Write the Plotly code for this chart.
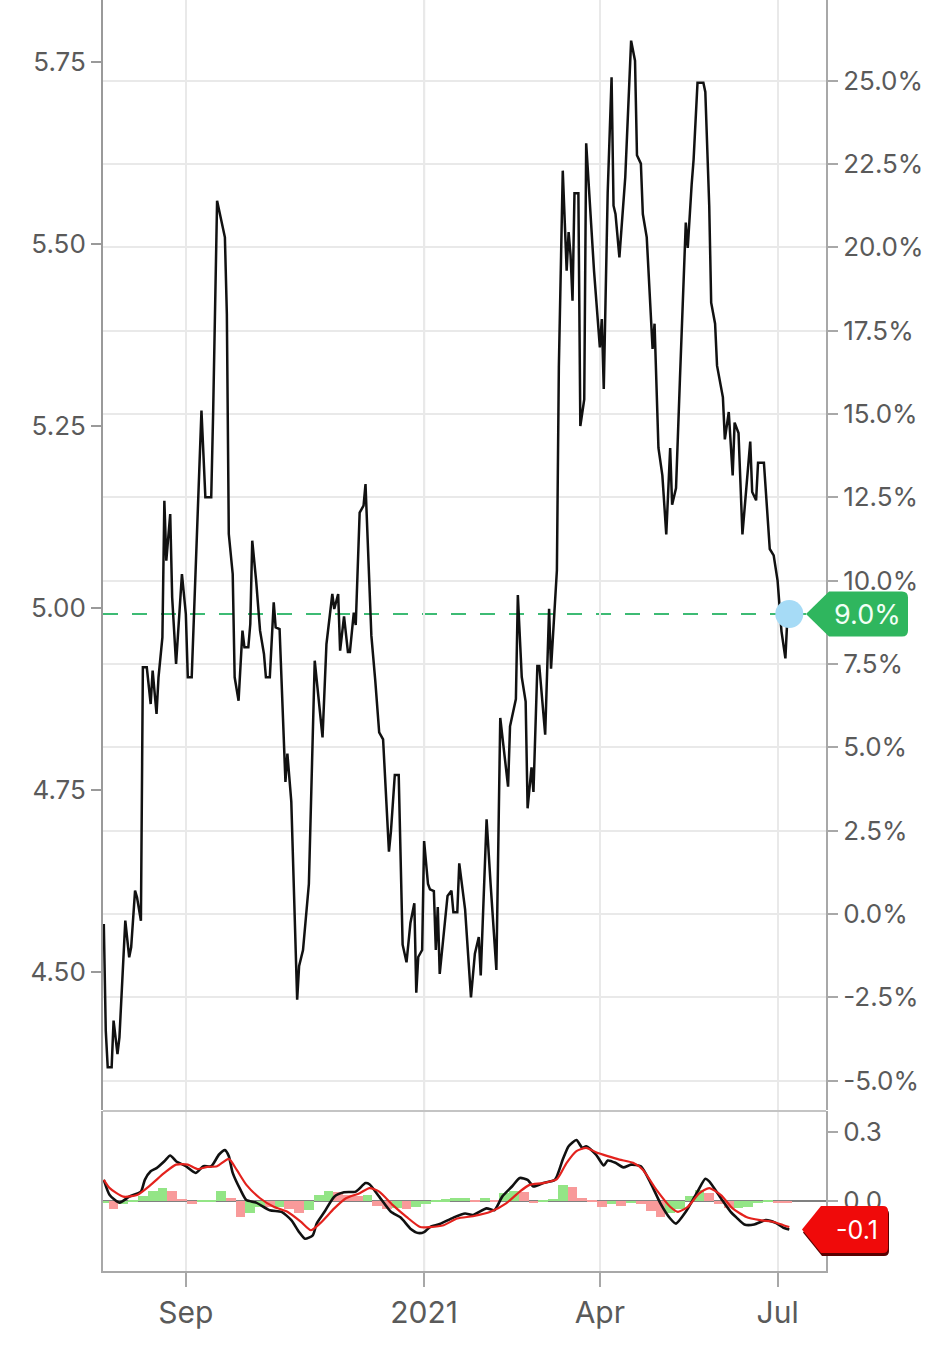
import pandas as pd
import plotly.graph_objects as go

# ---------------- data ----------------
rate_dates = [
    "2020-07-21", "2020-07-22", "2020-07-23", "2020-07-25", "2020-07-26", "2020-07-28", "2020-07-29",
    "2020-07-31", "2020-08-01", "2020-08-03", "2020-08-04", "2020-08-06", "2020-08-07", "2020-08-09",
    "2020-08-10", "2020-08-12", "2020-08-14", "2020-08-15", "2020-08-17", "2020-08-18", "2020-08-20",
    "2020-08-21", "2020-08-22", "2020-08-24", "2020-08-25", "2020-08-27", "2020-08-30", "2020-09-01",
    "2020-09-02", "2020-09-04", "2020-09-07", "2020-09-09", "2020-09-11", "2020-09-14", "2020-09-15",
    "2020-09-17", "2020-09-21", "2020-09-22", "2020-09-23", "2020-09-25", "2020-09-26", "2020-09-28",
    "2020-09-30", "2020-10-01", "2020-10-03", "2020-10-04", "2020-10-05", "2020-10-07", "2020-10-09",
    "2020-10-11", "2020-10-12", "2020-10-14", "2020-10-16", "2020-10-17", "2020-10-19", "2020-10-22",
    "2020-10-23", "2020-10-25", "2020-10-28", "2020-10-29", "2020-10-31", "2020-11-02", "2020-11-03",
    "2020-11-06", "2020-11-10", "2020-11-12", "2020-11-15", "2020-11-16", "2020-11-18", "2020-11-19",
    "2020-11-21", "2020-11-23", "2020-11-24", "2020-11-26", "2020-11-27", "2020-11-29", "2020-12-01",
    "2020-12-02", "2020-12-05", "2020-12-07", "2020-12-09", "2020-12-11", "2020-12-14", "2020-12-15",
    "2020-12-17", "2020-12-19", "2020-12-21", "2020-12-23", "2020-12-25", "2020-12-27", "2020-12-28",
    "2020-12-29", "2020-12-31", "2021-01-01", "2021-01-03", "2021-01-04", "2021-01-06", "2021-01-07",
    "2021-01-08", "2021-01-09", "2021-01-13", "2021-01-15", "2021-01-16", "2021-01-18", "2021-01-19",
    "2021-01-22", "2021-01-25", "2021-01-27", "2021-01-29", "2021-01-30", "2021-02-02", "2021-02-04",
    "2021-02-07", "2021-02-09", "2021-02-13", "2021-02-14", "2021-02-17", "2021-02-18", "2021-02-20",
    "2021-02-22", "2021-02-23", "2021-02-25", "2021-02-26", "2021-02-28", "2021-03-01", "2021-03-04",
    "2021-03-06", "2021-03-07", "2021-03-09", "2021-03-10", "2021-03-11", "2021-03-12", "2021-03-13",
    "2021-03-15", "2021-03-16", "2021-03-17", "2021-03-18", "2021-03-19", "2021-03-21", "2021-03-22",
    "2021-03-24", "2021-03-25", "2021-03-27", "2021-03-29", "2021-04-01", "2021-04-02", "2021-04-03",
    "2021-04-05", "2021-04-07", "2021-04-08", "2021-04-09", "2021-04-11", "2021-04-14", "2021-04-17",
    "2021-04-19", "2021-04-20", "2021-04-22", "2021-04-23", "2021-04-25", "2021-04-27", "2021-04-28",
    "2021-04-29", "2021-05-01", "2021-05-03", "2021-05-05", "2021-05-07", "2021-05-08", "2021-05-10",
    "2021-05-11", "2021-05-12", "2021-05-15", "2021-05-16", "2021-05-18", "2021-05-19", "2021-05-21",
    "2021-05-24", "2021-05-25", "2021-05-27", "2021-05-28", "2021-05-30", "2021-05-31", "2021-06-03",
    "2021-06-04", "2021-06-06", "2021-06-08", "2021-06-09", "2021-06-11", "2021-06-13", "2021-06-17",
    "2021-06-18", "2021-06-20", "2021-06-21", "2021-06-24", "2021-06-27", "2021-06-29", "2021-07-01",
    "2021-07-03", "2021-07-05", "2021-07-06", "2021-07-07",
]
rate_values = [
    -0.3, -3.5, -4.6, -4.6, -3.2, -4.2, -3.7,
    -1.1, -0.2, -1.3, -1.0, 0.7, 0.5, -0.2,
    7.4, 7.4, 6.3, 7.3, 6.0, 7.1, 8.3,
    12.4, 10.6, 12.0, 9.5, 7.5, 10.2, 9.0,
    7.1, 7.1, 12.0, 15.1, 12.5, 12.5, 15.1,
    21.4, 20.3, 18.0, 11.4, 10.2, 7.1, 6.4,
    8.5, 8.0, 8.0, 8.7, 11.2, 10.0, 8.5,
    7.8, 7.1, 7.1, 9.35, 8.6, 8.55, 3.96,
    4.81, 3.37, -2.57, -1.56, -1.08, 0.26, 0.9,
    7.6, 5.3, 8.1, 9.6, 9.15, 9.6, 7.9,
    8.93, 7.86, 7.86, 9.04, 8.67, 12.04, 12.25,
    12.9, 8.35, 7.0, 5.45, 5.24, 1.87, 2.46,
    4.17, 4.17, -0.92, -1.45, -0.27, 0.32, -2.36,
    -1.29, -1.08, 2.19, 0.9, 0.74, 0.69, -1.08,
    0.21, -1.8, 0.54, 0.7, 0.05, 0.05, 1.52,
    0.13, -2.5, -1.19, -0.69, -1.84, 2.84, 0.95,
    -1.68, 5.88, 3.82, 5.63, 6.45, 9.57, 7.11,
    6.37, 3.17, 4.4, 3.66, 7.44, 7.44, 5.38,
    9.16, 7.36, 9.57, 10.31, 16.4, 19.84, 22.3,
    19.3, 20.46, 19.76, 18.4, 21.62, 21.62, 14.64,
    15.44, 23.12, 21.1, 19.3, 17.0, 17.85, 15.75,
    21.63, 25.1, 21.25, 21.0, 19.7, 22.1, 26.2,
    25.6, 22.76, 22.51, 21.0, 20.3, 17.96, 16.95,
    17.71, 13.98, 13.16, 11.39, 13.98, 12.28, 12.78,
    14.68, 16.05, 20.74, 19.98, 21.88, 22.64, 24.94,
    24.94, 24.66, 21.25, 18.34, 17.71, 16.45, 15.5,
    14.24, 15.06, 13.16, 14.74, 14.43, 11.39, 14.17,
    12.66, 12.41, 13.54, 13.54, 10.95, 10.76, 10.0,
    8.48, 7.67, 8.87, 9.0,
]

macd_dates = [
    "2020-07-21", "2020-07-24", "2020-07-29", "2020-08-03", "2020-08-09", "2020-08-11", "2020-08-14",
    "2020-08-17", "2020-08-21", "2020-08-24", "2020-08-27", "2020-09-01", "2020-09-06", "2020-09-10",
    "2020-09-14", "2020-09-18", "2020-09-21", "2020-09-23", "2020-09-25", "2020-09-29", "2020-10-02",
    "2020-10-07", "2020-10-14", "2020-10-20", "2020-10-25", "2020-10-29", "2020-11-01", "2020-11-05",
    "2020-11-07", "2020-11-11", "2020-11-16", "2020-11-21", "2020-11-27", "2020-12-02", "2020-12-04",
    "2020-12-09", "2020-12-15", "2020-12-20", "2020-12-25", "2020-12-29", "2021-01-01", "2021-01-04",
    "2021-01-09", "2021-01-16", "2021-01-22", "2021-01-26", "2021-02-02", "2021-02-06", "2021-02-10",
    "2021-02-15", "2021-02-19", "2021-02-23", "2021-02-26", "2021-03-03", "2021-03-09", "2021-03-13",
    "2021-03-16", "2021-03-20", "2021-03-23", "2021-03-25", "2021-03-30", "2021-04-03", "2021-04-05",
    "2021-04-09", "2021-04-13", "2021-04-17", "2021-04-22", "2021-04-27", "2021-05-02", "2021-05-07",
    "2021-05-10", "2021-05-15", "2021-05-21", "2021-05-25", "2021-05-27", "2021-06-02", "2021-06-07",
    "2021-06-10", "2021-06-14", "2021-06-19", "2021-06-25", "2021-06-30", "2021-07-04", "2021-07-07",
]
macd_values = [
    0.092, 0.026, -0.007, 0.019, 0.041, 0.092, 0.129,
    0.143, 0.173, 0.198, 0.173, 0.151, 0.122, 0.151,
    0.151, 0.202, 0.221, 0.195, 0.122, 0.048, 0.004,
    -0.007, -0.040, -0.047, -0.083, -0.135, -0.164, -0.149,
    -0.098, -0.047, 0.019, 0.038, 0.041, 0.078, 0.073,
    0.019, -0.047, -0.072, -0.120, -0.139, -0.135, -0.113,
    -0.100, -0.072, -0.054, -0.061, -0.032, -0.040, 0.019,
    0.063, 0.100, 0.092, 0.063, 0.078, 0.092, 0.180,
    0.238, 0.265, 0.231, 0.238, 0.202, 0.154, 0.176,
    0.166, 0.146, 0.158, 0.151, 0.078, -0.010, -0.076,
    -0.098, -0.047, 0.041, 0.097, 0.085, 0.012, -0.047,
    -0.072, -0.102, -0.102, -0.083, -0.095, -0.116, -0.124,
]

signal_dates = [
    "2020-07-21", "2020-07-24", "2020-07-31", "2020-08-07", "2020-08-14", "2020-08-21", "2020-08-27",
    "2020-09-02", "2020-09-07", "2020-09-12", "2020-09-17", "2020-09-23", "2020-09-27", "2020-10-02",
    "2020-10-09", "2020-10-16", "2020-10-23", "2020-10-30", "2020-11-04", "2020-11-09", "2020-11-16",
    "2020-11-22", "2020-11-29", "2020-12-04", "2020-12-09", "2020-12-16", "2020-12-23", "2020-12-30",
    "2021-01-04", "2021-01-11", "2021-01-18", "2021-01-26", "2021-02-04", "2021-02-12", "2021-02-19",
    "2021-02-24", "2021-03-03", "2021-03-10", "2021-03-15", "2021-03-20", "2021-03-25", "2021-03-30",
    "2021-04-05", "2021-04-11", "2021-04-18", "2021-04-23", "2021-04-30", "2021-05-07", "2021-05-11",
    "2021-05-16", "2021-05-22", "2021-05-27", "2021-06-02", "2021-06-08", "2021-06-15", "2021-06-22",
    "2021-06-29", "2021-07-04", "2021-07-07",
]
signal_values = [
    0.092, 0.056, 0.019, 0.026, 0.070, 0.122, 0.158,
    0.158, 0.139, 0.148, 0.151, 0.183, 0.136, 0.070,
    0.012, -0.025, -0.047, -0.091, -0.127, -0.095, -0.032,
    0.012, 0.034, 0.056, 0.041, -0.018, -0.069, -0.113,
    -0.113, -0.105, -0.076, -0.066, -0.047, -0.010, 0.041,
    0.070, 0.078, 0.095, 0.166, 0.217, 0.231, 0.212,
    0.195, 0.180, 0.166, 0.136, 0.048, -0.025, -0.047,
    -0.025, 0.034, 0.056, 0.026, -0.032, -0.069, -0.083,
    -0.091, -0.105, -0.113,
]

hist_values = [
    -0.01, -0.035, -0.015, 0.005, 0.02, 0.045, 0.055, 0.045, 0.01, -0.012,
    0.003, 0.005, 0.045, 0.015, -0.07, -0.05, -0.025, -0.028, -0.025, -0.035,
    -0.05, -0.04, 0.025, 0.045, 0.04, 0.025, 0.02, 0.025, -0.02, -0.035,
    -0.03, -0.035, -0.025, -0.012, 0.005, 0.008, 0.012, 0.015, 0.006, 0.015,
    0.005, 0.035, 0.045, 0.04, -0.008, 0.003, 0.01, 0.07, 0.06, 0.012,
    0.006, -0.025, -0.012, -0.02, -0.01, -0.012, -0.045, -0.07, -0.05, -0.035,
    0.02, 0.05, 0.035, -0.012, -0.03, -0.03, -0.025, -0.01, 0.002, -0.005,
    -0.01,
]
hist_dates = list(pd.date_range("2020-07-21", periods=len(hist_values), freq="5D").strftime("%Y-%m-%d"))

left_ticks = [4.50, 4.75, 5.00, 5.25, 5.50, 5.75]
right_ticks = [-5.0, -2.5, 0.0, 2.5, 5.0, 7.5, 10.0, 12.5, 15.0, 17.5, 20.0, 22.5, 25.0]
macd_ticks = [0.0, 0.3]
x_tick_dates = ["2020-09-01", "2021-01-01", "2021-04-01", "2021-07-01"]
x_tick_labels = ["Sep", "2021", "Apr", "Jul"]

# ---------------- layout geometry (pixels) ----------------
W, H = 952, 1352
PL, PR = 103, 826          # plot area left / right
PT, PB = 0, 1271           # plot area top / bottom
MAIN_BOTTOM = 1110
SUB_TOP = 1111
PH = PB - PT
PW = PR - PL

main_range = [-5.88, 27.42]       # percent axis (right)
left_range = [4.310, 5.835]       # left scale
macd_range = [-0.304, 0.391]
PX_PER_PCT = (MAIN_BOTTOM - PT) / (main_range[1] - main_range[0])
PX_PER_MACD = (PB - SUB_TOP) / (macd_range[1] - macd_range[0])


def px_x(px):
    return (px - PL) / PW


FONT = "Inter, Lato, sans-serif"
TXT = "#5a5a5a"
GRID = "#e9e9e9"
AXL = "#a8a8a8"

hist_colors = []
prev = None
for v in hist_values:
    up = prev is None or v >= prev
    hist_colors.append("#93e586" if up else "#f89a9a")
    prev = v

fig = go.Figure()

fig.add_trace(go.Bar(
    x=hist_dates, y=hist_values, marker_color=hist_colors, marker_line_width=0,
    width=5 * 86400000, xaxis="x", yaxis="y3", hoverinfo="skip", showlegend=False,
))
fig.add_trace(go.Scatter(
    x=macd_dates, y=macd_values, mode="lines", line=dict(color="#111111", width=2.6, shape="spline", smoothing=0.6),
    xaxis="x", yaxis="y3", showlegend=False, hoverinfo="skip",
))
fig.add_trace(go.Scatter(
    x=signal_dates, y=signal_values, mode="lines", line=dict(color="#e3221d", width=2.2, shape="spline", smoothing=0.6),
    xaxis="x", yaxis="y3", showlegend=False, hoverinfo="skip",
))
fig.add_trace(go.Scatter(
    x=rate_dates, y=rate_values, mode="lines", line=dict(color="#111111", width=2.5),
    xaxis="x", yaxis="y", showlegend=False, hoverinfo="skip",
))
fig.add_trace(go.Scatter(
    x=[rate_dates[-1]], y=[rate_values[-1]], mode="markers",
    marker=dict(size=28, color="#a6dbf6", line=dict(width=0)),
    xaxis="x", yaxis="y", showlegend=False, hoverinfo="skip",
))

last_rate = rate_values[-1]
last_macd = macd_values[-1]

shapes = []
# darker year boundary gridline
shapes.append(dict(type="line", xref="x", yref="paper", x0="2021-01-01", x1="2021-01-01", y0=0, y1=1,
                   line=dict(color="#cdcdcd", width=2), layer="between"))
# separator between the two panels
shapes.append(dict(type="line", xref="paper", yref="paper", x0=0, x1=1,
                   y0=(PB - SUB_TOP) / PH, y1=(PB - SUB_TOP) / PH,
                   line=dict(color="#c4c4c4", width=2), layer="above"))
# dashed last-value line
shapes.append(dict(type="line", xref="paper", yref="y", x0=0, x1=px_x(806), y0=last_rate, y1=last_rate,
                   line=dict(color="#3dbb74", width=2, dash="15px,14px"), layer="between"))


def tag_path(tip, body, right, yc, half, rx, ry):
    return (f"M{tip},{yc} L{body},{yc + half} L{right - rx},{yc + half} "
            f"Q{right},{yc + half} {right},{yc + half - ry} L{right},{yc - half + ry} "
            f"Q{right},{yc - half} {right - rx},{yc - half} L{body},{yc - half} Z")


# green last-value tag on the percent axis
g_half = 22.5 / PX_PER_PCT
shapes.append(dict(type="path", xref="paper", yref="y",
                   path=tag_path(px_x(806), px_x(829), px_x(908), last_rate, g_half,
                                 6 / PW, 6 / PX_PER_PCT),
                   fillcolor="#2fb65e", line=dict(width=0), layer="above"))

# red last-value tag on the MACD axis (with a dark shadow)
r_half = 23.5 / PX_PER_MACD
sh = 3 / PX_PER_MACD
shapes.append(dict(type="path", xref="paper", yref="y3",
                   path=tag_path(px_x(803), px_x(822), px_x(889), last_macd - sh, r_half,
                                 5 / PW, 5 / PX_PER_MACD),
                   fillcolor="#5a0000", line=dict(width=0), layer="above"))
shapes.append(dict(type="path", xref="paper", yref="y3",
                   path=tag_path(px_x(802), px_x(821), px_x(888), last_macd, r_half,
                                 5 / PW, 5 / PX_PER_MACD),
                   fillcolor="#f00a0a", line=dict(width=0), layer="above"))

annotations = [
    dict(xref="paper", yref="y", x=px_x(867), y=last_rate, text=f"{last_rate:.1f}%", showarrow=False,
         font=dict(family=FONT, size=27, color="#f2fff5"), xanchor="center", yanchor="middle"),
    dict(xref="paper", yref="y3", x=px_x(857), y=last_macd, text=f"{last_macd:.1f}", showarrow=False,
         font=dict(family=FONT, size=25, color="#ffffff"), xanchor="center", yanchor="middle"),
]

fig.update_layout(
    width=W, height=H,
    margin=dict(l=PL, r=W - PR, t=PT, b=H - PB, pad=0),
    paper_bgcolor="white", plot_bgcolor="white",
    showlegend=False, bargap=0,
    shapes=shapes, annotations=annotations,
    xaxis=dict(
        type="date", range=["2020-07-20 14:00", "2021-07-25 19:00"], anchor="y3",
        tickvals=x_tick_dates, ticktext=x_tick_labels,
        showgrid=True, gridcolor=GRID, gridwidth=2,
        showline=True, linecolor=AXL, linewidth=2,
        ticks="outside", ticklen=14, tickwidth=2, tickcolor=AXL,
        tickfont=dict(family=FONT, size=30, color=TXT), zeroline=False, automargin=False,
    ),
    yaxis=dict(
        domain=[(PB - MAIN_BOTTOM) / PH, 1], range=main_range, side="right", anchor="x",
        tickvals=right_ticks, ticktext=[f"{t:.1f}%" for t in right_ticks],
        showgrid=True, gridcolor=GRID, gridwidth=2,
        showline=True, linecolor=AXL, linewidth=2,
        ticks="outside", ticklen=10, tickwidth=2, tickcolor=AXL,
        tickfont=dict(family=FONT, size=26, color=TXT), zeroline=False, automargin=False,
    ),
    yaxis2=dict(
        overlaying="y", side="left", range=left_range, anchor="x",
        tickvals=left_ticks, ticktext=[f"{t:.2f}" for t in left_ticks],
        showgrid=False, showline=True, linecolor="#9a9a9a", linewidth=2,
        ticks="outside", ticklen=10, tickwidth=2, tickcolor="#9a9a9a",
        tickfont=dict(family=FONT, size=26, color=TXT), zeroline=False, automargin=False,
    ),
    yaxis3=dict(
        domain=[0, (PB - SUB_TOP) / PH], range=macd_range, side="right", anchor="x",
        tickvals=macd_ticks, ticktext=[f"{t:.1f}" for t in macd_ticks],
        showgrid=False, showline=True, mirror=True, linecolor=AXL, linewidth=2,
        ticks="outside", ticklen=10, tickwidth=2, tickcolor=AXL,
        zeroline=True, zerolinecolor="#808080", zerolinewidth=2,
        tickfont=dict(family=FONT, size=26, color=TXT), automargin=False,
    ),
)

# make the left scale render even without its own trace
fig.add_trace(go.Scatter(x=[None], y=[None], xaxis="x", yaxis="y2", showlegend=False, hoverinfo="skip"))

fig.write_html("out.html", config={"displayModeBar": False},
               post_script="document.body.style.margin='0px';")
